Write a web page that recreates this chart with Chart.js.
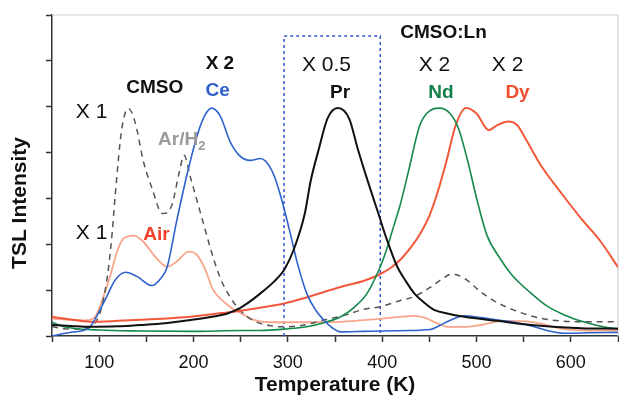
<!DOCTYPE html>
<html>
<head>
<meta charset="utf-8">
<script src="https://cdn.jsdelivr.net/npm/chart.js@4.4.1/dist/chart.umd.min.js"></script>
<style>
  body { margin: 0; background: #fff; }
  #wrap { width: 619px; height: 398px; position: relative; }
</style>
</head>
<body>
<div id="wrap"><canvas id="tslChart"></canvas></div>
<script>
// Temperatures (K) and TSL intensity (arb. units)
const cmsoT = [50, 70, 90, 100, 105, 110, 114, 117, 124, 131, 138, 147, 156, 167, 177, 185, 190, 197, 208, 218, 225, 232, 243, 253, 264, 280, 296, 320, 338, 360, 380, 398, 420, 434, 450, 462, 474, 487, 504, 520, 539, 556, 575, 611, 650];
const cmsoV = [0.2, 0.15, 0.2, 0.45, 0.85, 1.5, 2.3, 3.07, 4.52, 4.96, 4.67, 3.8, 3.22, 2.67, 2.85, 3.58, 3.94, 3.44, 2.64, 1.91, 1.45, 1.1, 0.72, 0.49, 0.33, 0.23, 0.2, 0.25, 0.35, 0.45, 0.58, 0.64, 0.78, 0.86, 1.05, 1.22, 1.35, 1.26, 0.97, 0.75, 0.57, 0.45, 0.36, 0.31, 0.31];

const ceT = [50, 70, 89, 96, 108, 117, 128, 140, 156, 165, 172, 182, 193, 204, 212, 219, 228, 239, 250, 260, 271, 282, 289, 296, 303, 310, 320, 330, 338, 347, 356, 380, 398, 430, 451, 460, 473, 487, 505, 522, 540, 558, 575, 593, 620, 650];
const ceV = [0.0, 0.08, 0.17, 0.38, 0.86, 1.22, 1.39, 1.3, 1.1, 1.25, 1.5, 2.49, 3.51, 4.38, 4.81, 4.97, 4.81, 4.23, 3.91, 3.83, 3.87, 3.65, 3.29, 2.78, 2.2, 1.6, 0.93, 0.55, 0.35, 0.18, 0.09, 0.1, 0.11, 0.12, 0.14, 0.22, 0.35, 0.44, 0.4, 0.35, 0.3, 0.22, 0.12, 0.06, 0.07, 0.08];

const airT = [50, 70, 85, 95, 100, 106, 112, 119, 126, 137, 147, 161, 172, 182, 195, 204, 212, 221, 232, 243, 250, 264, 280, 296, 356, 400, 434, 445, 458, 469, 487, 504, 529, 558, 593, 620, 650];
const airV = [0.38, 0.35, 0.34, 0.4, 0.6, 0.95, 1.33, 1.84, 2.13, 2.19, 2.05, 1.69, 1.51, 1.62, 1.84, 1.76, 1.47, 1.0, 0.75, 0.57, 0.5, 0.35, 0.3, 0.3, 0.31, 0.38, 0.44, 0.4, 0.28, 0.2, 0.2, 0.24, 0.33, 0.31, 0.15, 0.12, 0.12];

const prT = [50, 70, 89, 120, 144, 170, 197, 220, 236, 250, 257, 271, 285, 296, 306, 318, 324, 333, 342, 353, 365, 374, 385, 396, 405, 416, 425, 434, 445, 455, 469, 487, 522, 558, 611, 650];
const prV = [0.24, 0.22, 0.2, 0.21, 0.24, 0.28, 0.35, 0.42, 0.49, 0.62, 0.71, 0.93, 1.18, 1.44, 1.87, 2.67, 3.36, 4.09, 4.74, 4.97, 4.74, 4.09, 3.36, 2.67, 2.1, 1.51, 1.2, 0.93, 0.72, 0.57, 0.49, 0.42, 0.33, 0.24, 0.17, 0.16];

const ndT = [50, 60, 72, 100, 144, 200, 250, 271, 296, 320, 340, 356, 370, 384, 398, 405, 412, 419, 428, 440, 451, 461, 472, 481, 490, 501, 511, 525, 536, 546, 558, 575, 593, 615, 637, 650];
const ndV = [0.3, 0.22, 0.17, 0.13, 0.11, 0.1, 0.12, 0.12, 0.15, 0.2, 0.3, 0.42, 0.62, 0.93, 1.51, 1.9, 2.38, 2.85, 3.6, 4.6, 4.92, 4.97, 4.85, 4.52, 3.87, 2.93, 2.2, 1.69, 1.37, 1.15, 0.93, 0.65, 0.46, 0.3, 0.19, 0.16];

const dyT = [50, 70, 90, 120, 150, 197, 230, 250, 275, 296, 313, 356, 380, 396, 410, 420, 430, 440, 450, 459, 468, 478, 489, 500, 513, 522, 534, 543, 554, 568, 589, 611, 632, 650];
const dyV = [0.42, 0.36, 0.31, 0.33, 0.36, 0.42, 0.5, 0.55, 0.63, 0.71, 0.8, 1.07, 1.2, 1.33, 1.5, 1.68, 1.92, 2.22, 2.62, 3.15, 3.8, 4.6, 4.97, 4.85, 4.49, 4.6, 4.68, 4.6, 4.23, 3.73, 3.14, 2.56, 2.05, 1.5];

// dashed box around the Pr peak (x 0.5 region)
const boxT = [296, 296, 398, 398];
const boxV = [0, 6.54, 6.54, 0];

// annotations: [text, temperature, intensity, colour, bold]
const labels = [
  ['X 1', 92, 4.88, '#111', false],
  ['CMSO', 159, 5.41, '#111', true],
  ['X 2', 228, 5.93, '#111', true],
  ['Ce', 225.5, 5.34, '#2f5fc8', true],
  ['X 0.5', 341, 5.91, '#111', false],
  ['Pr', 355.3, 5.30, '#111', true],
  ['CMSO:Ln', 465, 6.61, '#111', true],
  ['X 2', 455.5, 5.91, '#111', false],
  ['X 2', 533, 5.91, '#111', false],
  ['Nd', 462.4, 5.30, '#13804a', true],
  ['Dy', 543.5, 5.30, '#f0502d', true],
  ['X 1', 92, 2.25, '#111', false],
  ['Air', 160.8, 2.20, '#f0402a', true]
];

const FONT = '"Liberation Sans", Arial, Helvetica, sans-serif';

function pts(ts, vs) {
  return ts.map((t, i) => ({ x: t, y: vs[i] }));
}

const annotatePlugin = {
  id: 'annotate',
  beforeDatasetsDraw(chart) {
    const { ctx, chartArea: a } = chart;
    ctx.save();
    ctx.strokeStyle = '#cfcfcf';
    ctx.lineWidth = 1.2;
    ctx.beginPath();
    ctx.moveTo(a.left, a.top);
    ctx.lineTo(a.right, a.top);
    ctx.lineTo(a.right, a.bottom);
    ctx.stroke();
    ctx.restore();
  },
  afterDatasetsDraw(chart) {
    const { ctx, scales: { x, y } } = chart;
    ctx.save();
    ctx.textAlign = 'center';
    ctx.textBaseline = 'middle';
    labels.forEach(([txt, t, v, col, bold]) => {
      ctx.font = bold ? 'bold 19px ' + FONT : '21px ' + FONT;
      ctx.fillStyle = col;
      ctx.fillText(txt, x.getPixelForValue(t), y.getPixelForValue(v));
    });
    // Ar/H2 with subscript
    const ax = x.getPixelForValue(162.4), ay = y.getPixelForValue(4.27);
    ctx.fillStyle = '#9a9a9a';
    ctx.textAlign = 'left';
    ctx.font = 'bold 19px ' + FONT;
    ctx.fillText('Ar/H', ax, ay);
    const w = ctx.measureText('Ar/H').width;
    ctx.font = 'bold 13px ' + FONT;
    ctx.fillText('2', ax + w, ay + 6);
    // y axis title
    ctx.save();
    ctx.translate(20, y.getPixelForValue(2.9));
    ctx.rotate(-Math.PI / 2);
    ctx.textAlign = 'center';
    ctx.fillStyle = '#111';
    ctx.font = 'bold 21px ' + FONT;
    ctx.fillText('TSL Intensity', 0, 0);
    ctx.restore();
    ctx.restore();
  }
};

const line = (label, ts, vs, color, width, dash) => ({
  label, data: pts(ts, vs), borderColor: color, backgroundColor: color,
  borderWidth: width, borderDash: dash || [], pointRadius: 0,
  cubicInterpolationMode: 'monotone', fill: false
});

new Chart(document.getElementById('tslChart'), {
  type: 'line',
  data: {
    datasets: [
      line('Pr', prT, prV, '#111111', 2),
      line('Ce', ceT, ceV, '#2f62cc', 1.6),
      line('Nd', ndT, ndV, '#14894b', 1.6),
      line('Dy', dyT, dyV, '#f2583a', 2),
      line('CMSO Ar/H2', cmsoT, cmsoV, '#555555', 1.5, [6, 5]),
      line('CMSO Air', airT, airV, '#f8a58c', 1.8),
      { label: 'box', data: pts(boxT, boxV), borderColor: '#3355d0', borderWidth: 1.5,
        borderDash: [3, 3], pointRadius: 0, tension: 0, fill: false }
    ]
  },
  options: {
    responsive: true,
    maintainAspectRatio: false,
    animation: false,
    layout: { padding: { top: 15, right: 1, left: 0, bottom: 0 } },
    plugins: { legend: { display: false }, tooltip: { enabled: false } },
    scales: {
      x: {
        type: 'linear', min: 50, max: 650,
        afterFit: s => { s.height = 62; s.paddingLeft = 0; s.paddingRight = 0; },
        ticks: {
          stepSize: 50, autoSkip: false, maxRotation: 0, padding: 10,
          color: '#111', font: { family: FONT, size: 18 },
          callback: v => (v % 100 === 0 ? v : '')
        },
        grid: { drawOnChartArea: false, drawTicks: true, tickLength: 6, tickColor: '#333', tickWidth: 1.5 },
        border: { color: '#333', width: 1.5 },
        title: { display: true, text: 'Temperature (K)', color: '#111',
                 font: { family: FONT, size: 21, weight: 'bold' }, padding: { top: 0, bottom: 0 } }
      },
      y: {
        min: 0, max: 7,
        afterFit: s => { s.width = 52; },
        ticks: { stepSize: 1, display: false },
        grid: { drawOnChartArea: false, drawTicks: true, tickLength: 6, tickColor: '#333', tickWidth: 1.5 },
        border: { color: '#333', width: 1.5 }
      }
    }
  },
  plugins: [annotatePlugin]
});
</script>
</body>
</html>
